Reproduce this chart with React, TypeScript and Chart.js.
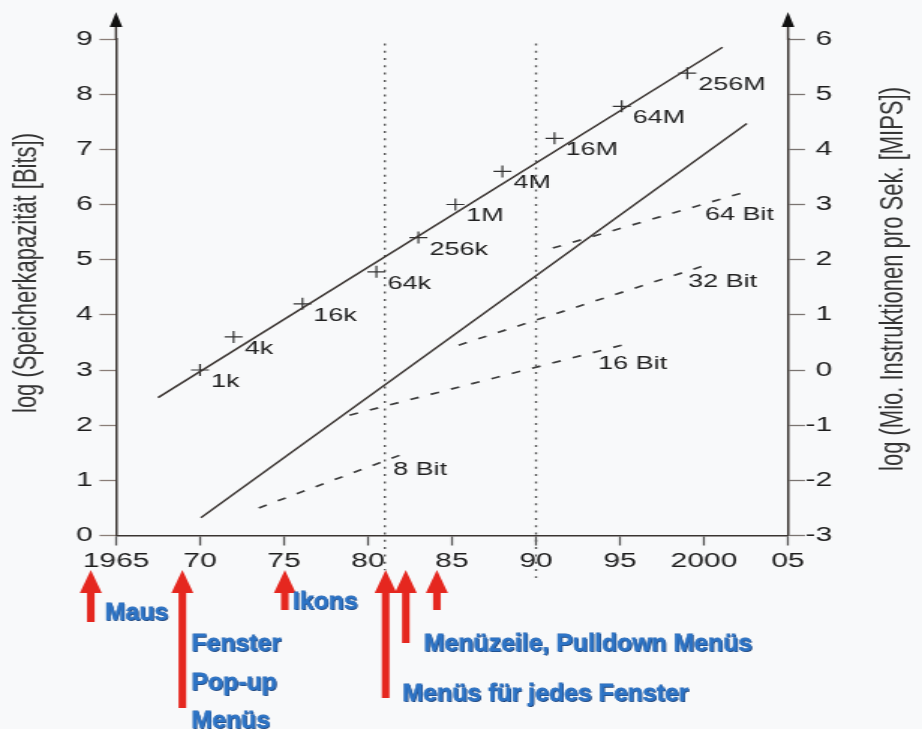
import React, { useEffect, useRef } from "react";
import { Chart, registerables } from "chart.js";

Chart.register(...registerables);

// The reference picture is horizontally stretched; we draw on a narrower canvas and stretch it.
const S = 922 / 615;

// ---------- data ----------
const yearMin = 1965;
const yearMax = 2005;
const yearTickLabels: Record<number, string> = {
  1965: "1965", 1970: "70", 1975: "75", 1980: "80", 1985: "85",
  1990: "90", 1995: "95", 2000: "2000", 2005: "05",
};

// memory capacity, log10(bits)
const memoryTrendYears = [1967.5, 2001.1];
const memoryTrendLog = [2.5, 8.85];
const chipYears = [1970.0, 1972.0, 1976.1, 1980.5, 1983.0, 1985.2, 1988.0, 1991.1, 1995.1, 1999.0];
const chipLog = [3.0, 3.6, 4.2, 4.78, 5.4, 6.0, 6.6, 7.2, 7.78, 8.38];
const chipLabels = ["1k", "4k", "16k", "64k", "256k", "1M", "4M", "16M", "64M", "256M"];

// processor speed, log10(MIPS)
const mipsTrendYears = [1970.05, 2002.55];
const mipsTrendLog = [-2.68, 4.47];
const bitNames = ["8 Bit", "16 Bit", "32 Bit", "64 Bit"];
const bitStartYears = [1973.5, 1978.9, 1985.4, 1991.0];
const bitEndYears = [1982.2, 1995.1, 2000.1, 2002.6];
const bitStartLog = [-2.5, -0.82, 0.45, 2.21];
const bitEndLog = [-1.51, 0.45, 1.9, 3.24];
const bitLabelYears = [1981.5, 1993.7, 1999.05, 2000.05];
const bitLabelLog = [-1.81, 0.1, 1.59, 2.81];

// dotted reference years
const markerYears = [1981.0, 1990.0];
const markerTopLog = [8.92, 8.92];
const markerBottomLog = [-0.63, -0.77];

// GUI milestones
const milestoneYears = [1963.5, 1968.95, 1975.05, 1981.05, 1982.25, 1984.1];
const milestoneTexts = [
  ["Maus"],
  ["Fenster", "Pop-up", "Menüs"],
  ["Ikons"],
  ["Menüs für jedes Fenster"],
  ["Menüzeile, Pulldown Menüs"],
  [],
];

// ---------- layout (screen pixels) ----------
const milestoneLayout = [
  { bottom: 622, dx: 14, y: 614 },
  { bottom: 708, dx: 9, y: 645 },
  { bottom: 610, dx: 8, y: 603 },
  { bottom: 698, dx: 17, y: 695 },
  { bottom: 643, dx: 18, y: 645 },
  { bottom: 610, dx: 0, y: 0 },
];

const FONT = "'Liberation Sans', Arial, Helvetica, sans-serif";
const INK = "#3a3431";

const pts = (xs: number[], ys: number[]) => xs.map((x, i) => ({ x, y: ys[i] }));

const decorPlugin = {
  id: "decor",
  afterDraw(chart: any) {
    const ctx = chart.ctx as CanvasRenderingContext2D;
    const { left, right, top } = chart.chartArea;
    const xs = chart.scales.x;
    const y2 = chart.scales.y2;

    ctx.save();
    // axis extensions and arrow heads
    ctx.strokeStyle = INK;
    ctx.fillStyle = "#111";
    ctx.lineWidth = 1.5;
    for (const ax of [left, right]) {
      ctx.beginPath();
      ctx.moveTo(ax, top + 1);
      ctx.lineTo(ax, 25);
      ctx.stroke();
      ctx.beginPath();
      ctx.moveTo(ax, 12);
      ctx.lineTo(ax - 4.2, 27);
      ctx.lineTo(ax + 4.2, 27);
      ctx.closePath();
      ctx.fill();
    }

    // axis titles (both read bottom-to-top)
    ctx.fillStyle = "#333";
    ctx.font = `22px ${FONT}`;
    ctx.textAlign = "center";
    ctx.textBaseline = "middle";
    ctx.save();
    ctx.translate(18, 273);
    ctx.rotate(-Math.PI / 2);
    ctx.fillText("log (Speicherkapazität [Bits])", 0, 0);
    ctx.restore();
    ctx.save();
    ctx.translate(596, 279);
    ctx.rotate(-Math.PI / 2);
    ctx.fillText("log (Mio. Instruktionen pro Sek. [MIPS])", 0, 0);
    ctx.restore();

    // chip labels
    const meta = chart.getDatasetMeta(1);
    ctx.font = `18px ${FONT}`;
    ctx.fillStyle = "#222";
    ctx.textAlign = "left";
    ctx.textBaseline = "middle";
    meta.data.forEach((el: any, i: number) => {
      ctx.fillText(chipLabels[i], el.x + 11 / S, el.y + 12);
    });

    // bit-width labels
    bitNames.forEach((name, i) => {
      ctx.fillText(name, xs.getPixelForValue(bitLabelYears[i]), y2.getPixelForValue(bitLabelLog[i]));
    });

    // milestones: red arrows + blue text
    milestoneYears.forEach((yr, i) => {
      const x = xs.getPixelForValue(yr);
      const lay = milestoneLayout[i];
      ctx.fillStyle = "#e5271f";
      ctx.beginPath();
      ctx.moveTo(x, 570);
      ctx.lineTo(x - 11 / S, 593);
      ctx.lineTo(x + 11 / S, 593);
      ctx.closePath();
      ctx.fill();
      ctx.fillRect(x - 3.8 / S, 590, 7.6 / S, lay.bottom - 590);

      ctx.font = `bold 23px ${FONT}`;
      ctx.textAlign = "left";
      ctx.textBaseline = "middle";
      milestoneTexts[i].forEach((t, j) => {
        ctx.save();
        ctx.translate(x + lay.dx / S, lay.y + j * 38.5);
        ctx.scale(1.08 / S, 1);
        ctx.fillStyle = "#1d3f72";
        ctx.fillText(t, 1, 1);
        ctx.strokeStyle = "#2a66b0";
        ctx.lineWidth = 0.8;
        ctx.strokeText(t, 0, 0);
        ctx.fillStyle = "#2d74c6";
        ctx.fillText(t, 0, 0);
        ctx.restore();
      });
    });
    ctx.restore();
  },
};

export default function App() {
  const ref = useRef<HTMLCanvasElement>(null);

  useEffect(() => {
    const canvas = ref.current;
    if (!canvas) return;
    const lineDs = (data: any[], yAxisID: string, extra: any = {}) => ({
      data,
      yAxisID,
      showLine: true,
      borderColor: INK,
      borderWidth: 1.5,
      pointRadius: 0,
      fill: false,
      ...extra,
    });
    const datasets: any[] = [
      lineDs(pts(memoryTrendYears, memoryTrendLog), "y"),
      {
        data: pts(chipYears, chipLog),
        yAxisID: "y",
        showLine: false,
        pointStyle: "cross",
        pointRadius: 6,
        borderColor: "#333",
        borderWidth: 1.2,
        backgroundColor: "#333",
      },
      lineDs(pts(mipsTrendYears, mipsTrendLog), "y2"),
      ...bitNames.map((_, i) =>
        lineDs(pts([bitStartYears[i], bitEndYears[i]], [bitStartLog[i], bitEndLog[i]]), "y2", {
          borderDash: [6, 8.5],
          borderColor: "#3e3e3e",
          borderWidth: 1.7,
        })
      ),
      ...markerYears.map((yr, i) =>
        lineDs(pts([yr, yr], [markerTopLog[i], markerBottomLog[i]]), "y", {
          borderDash: [2, 5.3],
          borderColor: "#555",
          borderWidth: 1.4,
          clip: false,
        })
      ),
    ];

    const chart = new Chart(canvas, {
      type: "scatter",
      data: { datasets },
      options: {
        animation: false,
        responsive: false,
        events: [],
        layout: { padding: { top: 39, right: 60, left: 0, bottom: 0 } },
        plugins: { legend: { display: false }, tooltip: { enabled: false } },
        scales: {
          x: {
            type: "linear",
            position: "bottom",
            min: yearMin,
            max: yearMax,
            ticks: {
              stepSize: 5,
              autoSkip: false,
              maxRotation: 0,
              padding: 4,
              color: "#1e1e1e",
              font: { family: FONT, size: 20 },
              callback: (v: any) => yearTickLabels[Number(v)] ?? "",
            },
            grid: { drawOnChartArea: false, drawTicks: true, tickLength: 10, tickColor: "#555", tickWidth: 1.3 },
            border: { display: true, color: INK, width: 1.5 },
            afterFit: (s: any) => { s.height = 193.5; },
          },
          y: {
            type: "linear",
            position: "left",
            min: 0,
            max: 9,
            ticks: {
              stepSize: 1,
              padding: 4.5,
              color: "#1e1e1e",
              font: { family: FONT, size: 20 },
            },
            grid: { drawOnChartArea: false, drawTicks: true, tickLength: 11, tickColor: "#8a7e78", tickWidth: 1.3 },
            border: { display: true, color: INK, width: 1.5 },
            afterFit: (s: any) => { s.width = 116 / S; },
          },
          y2: {
            type: "linear",
            position: "right",
            min: -3,
            max: 6,
            ticks: {
              stepSize: 1,
              padding: 0.5,
              crossAlign: "far",
              color: "#1e1e1e",
              font: { family: FONT, size: 20 },
            },
            grid: { drawOnChartArea: false, drawTicks: true, tickLength: 11.3, tickColor: "#7a7471", tickWidth: 1.3 },
            border: { display: true, color: INK, width: 1.5 },
            afterFit: (s: any) => { s.width = 615 - 60 - 788 / S; },
          },
        },
      } as any,
      plugins: [decorPlugin],
    });
    return () => chart.destroy();
  }, []);

  return (
    <div
      style={{
        position: "fixed",
        left: 0,
        top: 0,
        width: 922,
        height: 729,
        background: "#f8f9fa",
        overflow: "hidden",
      }}
    >
      <div style={{ width: 615, height: 729, transform: `scaleX(${S})`, transformOrigin: "0 0" }}>
        <canvas ref={ref} width={615} height={729} style={{ display: "block" }} />
      </div>
    </div>
  );
}
